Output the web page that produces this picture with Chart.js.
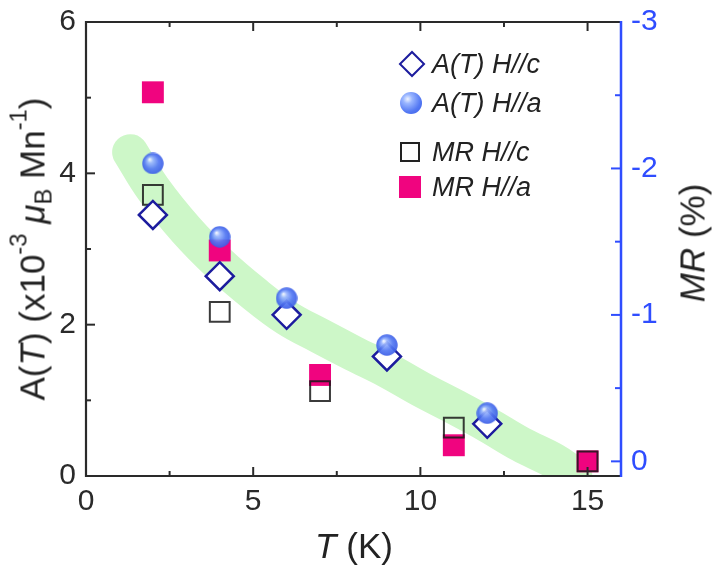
<!DOCTYPE html>
<html>
<head>
<meta charset="utf-8">
<script src="https://cdn.jsdelivr.net/npm/chart.js@4.4.1/dist/chart.umd.min.js"></script>
<style>
  html, body { margin: 0; padding: 0; background: #ffffff; }
  #wrap { position: relative; width: 717px; height: 579px; overflow: hidden; font-family: 'Liberation Sans', Arial, sans-serif; color: #222; }
  #c { position: absolute; left: 0; top: 0; }
  .t { position: absolute; white-space: nowrap; line-height: 1; }
  .rot { transform: translate(-50%, -50%) rotate(-90deg); }
  .ctr { transform: translate(-50%, -50%); }
  sup, sub { font-size: 0.68em; line-height: 0; position: relative; vertical-align: baseline; }
  sup { top: -0.75em; }
  sub { top: 0.3em; }
  .lg { position: absolute; font-style: italic; font-size: 27px; line-height: 1; transform: translateY(-50%); white-space: nowrap; color: #222; }
  .mk { position: absolute; box-sizing: border-box; transform: translate(-50%, -50%); }
</style>
</head>
<body>
<div id="wrap">
  <canvas id="c" width="717" height="579"></canvas>
  <div class="t rot" style="left:32px; top:249px; font-size:35px;">A(<i>T</i>) (x10<sup>-3</sup> <i>μ</i><sub>B</sub> Mn<sup>-1</sup>)</div>
  <div class="t ctr" style="left:354px; top:545px; font-size:35px;"><i>T</i> (K)</div>
  <div class="t rot" style="left:692px; top:243px; font-size:35px;"><i>MR</i> (%)</div>

  <div class="mk" style="left:412px; top:64px; width:19px; height:19px; border:2.5px solid #1c1c9e; background:#fff; transform: translate(-50%,-50%) rotate(45deg);"></div>
  <div class="lg" style="left:432px; top:64px;">A(T) H//c</div>
  <div class="mk" style="left:411px; top:103px; width:22px; height:22px; border-radius:50%; background: radial-gradient(circle at 35% 32%, #eef3ff 0%, #9ab6ff 22%, #5479f3 62%, #3a5ce6 100%);"></div>
  <div class="lg" style="left:432px; top:103px;">A(T) H//a</div>
  <div class="mk" style="left:410px; top:152px; width:20px; height:20px; border:2px solid #222;"></div>
  <div class="lg" style="left:432px; top:152px;">MR H//c</div>
  <div class="mk" style="left:410px; top:187px; width:22px; height:22px; background:#f0047f;"></div>
  <div class="lg" style="left:432px; top:187px;">MR H//a</div>
</div>
<script>
// ---- data ----
const tempA = [2, 4, 6, 9, 12];            // K, A(T) series
const aHc   = [3.45, 2.64, 2.13, 1.58, 0.69];
const aHa   = [4.13, 3.16, 2.35, 1.73, 0.83];
const tempMR = [2, 4, 7, 11, 15];          // K, MR series
const mrHc  = [-1.82, -1.02, -0.48, -0.23, 0.0];
const mrHa  = [-2.52, -1.44, -0.59, -0.11, 0.0];
// guide band (green, drawn by hand in the original)
const bandT = [1.32, 2, 3, 4, 5, 6, 7, 8, 9, 10, 11, 12, 13, 14, 14.6];
const bandA = [4.28, 3.8, 3.25, 2.8, 2.42, 2.09, 1.85, 1.62, 1.40, 1.15, 0.92, 0.68, 0.42, 0.2, 0.02];
// ticks
const xTicks = [0, 5, 10, 15];
const xMinor = [2.5, 7.5, 12.5];
const yTicks = [0, 2, 4, 6];
const yMinor = [1, 3, 5];
const mrTicks = [-3, -2, -1, 0];
const mrMinor = [-2.5, -1.5, -0.5];

const FONT = "'Liberation Sans', Arial, sans-serif";
const BLUE = '#2f4dff';
const INK = '#2a2a2a';

function pts(xs, ys) { return xs.map((x, i) => ({ x: x, y: ys[i] })); }

// shaded sphere marker
function sphere(r) {
  const c = document.createElement('canvas');
  c.width = 2 * r; c.height = 2 * r;
  const g = c.getContext('2d');
  const grad = g.createRadialGradient(r * 0.7, r * 0.62, 0.5, r, r, r);
  grad.addColorStop(0, '#eef3ff');
  grad.addColorStop(0.22, '#9ab6ff');
  grad.addColorStop(0.62, '#5479f3');
  grad.addColorStop(1, '#3a5ce6');
  g.globalAlpha = 0.92;
  g.fillStyle = grad;
  g.beginPath(); g.arc(r, r, r - 0.3, 0, Math.PI * 2); g.fill();
  return c;
}

const framePlugin = {
  id: 'frame',
  afterDatasetsDraw(chart) {
    const { ctx, chartArea: a, scales } = chart;
    const x = scales.x, y = scales.y, y2 = scales.y2;
    ctx.save();
    ctx.lineCap = 'butt';
    ctx.strokeStyle = INK; ctx.lineWidth = 2;
    const tick = (x1, y1, x2, y2p) => { ctx.beginPath(); ctx.moveTo(x1, y1); ctx.lineTo(x2, y2p); ctx.stroke(); };
    xTicks.forEach(v => { const p = x.getPixelForValue(v); tick(p, a.bottom, p, a.bottom - 9); tick(p, a.top, p, a.top + 9); });
    xMinor.forEach(v => { const p = x.getPixelForValue(v); tick(p, a.bottom, p, a.bottom - 5); tick(p, a.top, p, a.top + 5); });
    yTicks.forEach(v => { const p = y.getPixelForValue(v); tick(a.left, p, a.left + 9, p); });
    yMinor.forEach(v => { const p = y.getPixelForValue(v); tick(a.left, p, a.left + 5, p); });
    ctx.strokeStyle = BLUE;
    mrTicks.forEach(v => { const p = y2.getPixelForValue(v); tick(a.right, p, a.right - 10, p); });
    mrMinor.forEach(v => { const p = y2.getPixelForValue(v); tick(a.right, p, a.right - 6, p); });
    ctx.strokeStyle = INK; ctx.lineWidth = 2.2;
    ctx.beginPath();
    ctx.moveTo(a.right, a.top); ctx.lineTo(a.left, a.top); ctx.lineTo(a.left, a.bottom); ctx.lineTo(a.right, a.bottom);
    ctx.stroke();
    ctx.strokeStyle = BLUE; ctx.lineWidth = 2.5;
    ctx.beginPath(); ctx.moveTo(a.right, a.top - 1); ctx.lineTo(a.right, a.bottom + 1); ctx.stroke();
    ctx.restore();
  }
};

const setTicks = arr => s => { s.ticks = arr.map(v => ({ value: v })); };
const fixSize = (w, h) => s => {
  if (w !== null) s.width = w;
  if (h !== null) s.height = h;
  s.paddingTop = 0; s.paddingBottom = 0; s.paddingLeft = 0; s.paddingRight = 0;
};

new Chart(document.getElementById('c'), {
  type: 'scatter',
  data: {
    datasets: [
      { label: 'A(T) H//a', data: pts(tempA, aHa), yAxisID: 'y', pointStyle: sphere(11), pointRadius: 11 },
      { label: 'A(T) H//c', data: pts(tempA, aHc), yAxisID: 'y', pointStyle: 'rectRot', pointRadius: 14,
        borderColor: '#1c1c9e', backgroundColor: '#ffffff', borderWidth: 2.5 },
      { label: 'MR H//c', data: pts(tempMR, mrHc), yAxisID: 'y2', pointStyle: 'rect', pointRadius: 14,
        borderColor: 'rgba(25,25,25,0.85)', backgroundColor: 'rgba(0,0,0,0)', borderWidth: 2 },
      { label: 'MR H//a', data: pts(tempMR, mrHa), yAxisID: 'y2', pointStyle: 'rect', pointRadius: 15.5,
        borderColor: '#f0047f', backgroundColor: '#f0047f', borderWidth: 0 },
      { type: 'line', label: 'band', data: pts(bandT, bandA), yAxisID: 'y', showLine: true, pointRadius: 0,
        borderColor: '#cdf7c8', borderWidth: 36, borderCapStyle: 'round', borderJoinStyle: 'round',
        tension: 0.4, fill: false, clip: 0 }
    ]
  },
  options: {
    responsive: false,
    animation: false,
    events: [],
    layout: { padding: { top: 22, left: 0, right: 0, bottom: 0 } },
    plugins: { legend: { display: false }, tooltip: { enabled: false }, title: { display: false } },
    scales: {
      x: {
        type: 'linear', position: 'bottom', min: 0, max: 16,
        grid: { display: false, drawTicks: false }, border: { display: false },
        afterBuildTicks: setTicks(xTicks),
        afterFit: fixSize(null, 103),
        ticks: { font: { family: FONT, size: 30 }, color: INK, padding: 8, maxRotation: 0, autoSkip: false }
      },
      y: {
        type: 'linear', position: 'left', min: 0, max: 6,
        grid: { display: false, drawTicks: false }, border: { display: false },
        afterBuildTicks: setTicks(yTicks),
        afterFit: fixSize(86, null),
        ticks: { font: { family: FONT, size: 30 }, color: INK, padding: 10, autoSkip: false }
      },
      y2: {
        type: 'linear', position: 'right', min: -3, max: 0.1, reverse: true,
        grid: { display: false, drawTicks: false }, border: { display: false },
        afterBuildTicks: setTicks(mrTicks),
        afterFit: fixSize(96, null),
        ticks: { font: { family: FONT, size: 30 }, color: BLUE, padding: 10, autoSkip: false }
      }
    }
  },
  plugins: [framePlugin]
});
</script>
</body>
</html>
